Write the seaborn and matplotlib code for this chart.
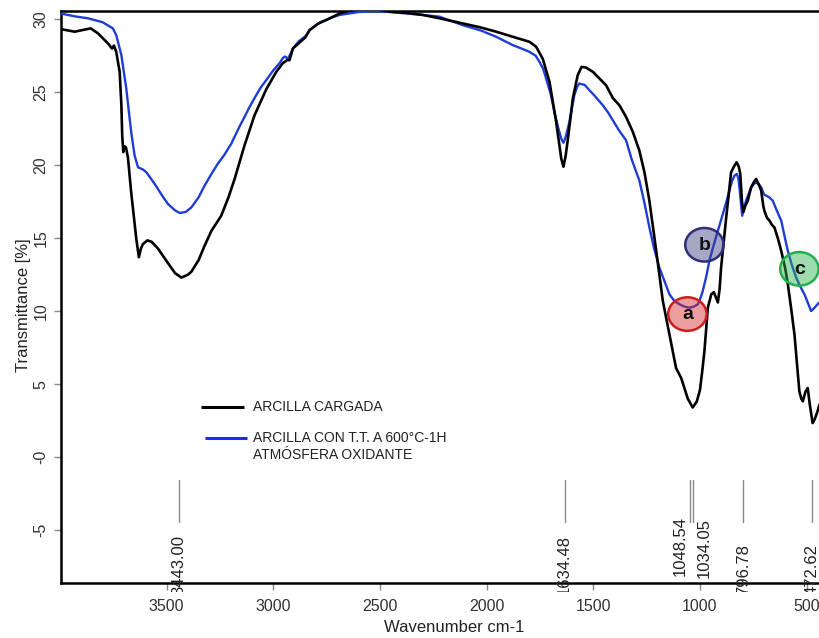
import numpy as np
import pandas as pd
import matplotlib
matplotlib.use("Agg")
import matplotlib.pyplot as plt
from matplotlib.patches import Ellipse
from matplotlib.transforms import Bbox, TransformedBbox
import seaborn as sns

# ---- FTIR spectra -------------------------------------------------------
wn_cargada = [3996, 3931, 3856, 3822, 3775, 3756, 3747, 3736, 3720, 3712, 3708, 3703,
              3697, 3690, 3681, 3666, 3642, 3630, 3620, 3611, 3590, 3570, 3541, 3494,
              3460, 3431, 3400, 3384, 3350, 3322, 3290, 3244, 3210, 3181, 3135, 3088,
              3033, 2986, 2955, 2935, 2924, 2908, 2870, 2850, 2830, 2790, 2752, 2689,
              2620, 2560, 2500, 2455, 2380, 2299, 2221, 2112, 2030, 1955, 1877, 1799,
              1768, 1737, 1705, 1674, 1650, 1640, 1630, 1619, 1596, 1573, 1555, 1535,
              1502, 1440, 1408, 1377, 1346, 1315, 1284, 1260, 1237, 1205, 1174, 1143,
              1112, 1088, 1070, 1057, 1034, 1015, 1000, 990, 979, 963, 947, 935, 924,
              916, 908, 901, 877, 854, 838, 828, 818, 811, 803, 796, 788, 776, 760,
              745, 737, 725, 713, 703, 698, 686, 674, 662, 651, 635, 619, 600, 588,
              570, 557, 545, 534, 525, 518, 505, 495, 485, 472, 462, 449, 440]
tr_cargada = [29.33, 29.15, 29.38, 29.04, 28.35, 28.0, 28.2, 27.77, 26.4, 24.1, 22.0, 20.9,
              21.3, 21.2, 20.5, 18.14, 14.94, 13.7, 14.3, 14.6, 14.85, 14.75, 14.3, 13.3,
              12.6, 12.3, 12.5, 12.7, 13.5, 14.48, 15.5, 16.54, 17.8, 19.07, 21.35, 23.42,
              25.2, 26.4, 27.0, 27.2, 27.2, 28.0, 28.5, 28.75, 29.26, 29.7, 29.95, 30.4,
              30.7, 30.76, 30.65, 30.52, 30.45, 30.3, 30.07, 29.72, 29.45, 29.15, 28.8, 28.46,
              28.12, 27.3, 25.7, 22.96, 20.44, 19.9, 20.6, 21.8, 24.57, 26.17, 26.74, 26.7,
              26.4, 25.48, 24.6, 24.1, 23.3, 22.3, 21.0, 19.5, 17.57, 14.13, 10.7, 8.4,
              6.1, 5.42, 4.6, 4.0, 3.4, 3.8, 4.6, 5.8, 7.26, 10.24, 11.15, 11.3, 10.9,
              10.6, 11.5, 12.98, 16.42, 19.52, 19.98, 20.2, 19.9, 19.4, 17.5, 16.8, 17.2,
              17.57, 18.49, 18.9, 19.06, 18.7, 18.26, 17.2, 16.88, 16.4, 16.2, 15.9, 15.74,
              15.0, 14.13, 12.9, 11.84, 9.9, 8.4, 6.4, 4.5, 4.0, 3.82, 4.5, 4.73, 3.6,
              2.33, 2.6, 3.13, 3.6]

wn_600 = [3996, 3930, 3869, 3800, 3760, 3752, 3736, 3712, 3689, 3666, 3650, 3634, 3610,
          3595, 3556, 3520, 3494, 3460, 3439, 3410, 3384, 3350, 3322, 3290, 3260, 3230,
          3197, 3160, 3135, 3111, 3088, 3060, 3033, 3000, 2970, 2955, 2945, 2932, 2920,
          2908, 2880, 2861, 2845, 2830, 2780, 2720, 2689, 2600, 2533, 2450, 2377, 2300,
          2221, 2112, 2030, 1955, 1877, 1820, 1799, 1770, 1752, 1735, 1721, 1700, 1682,
          1665, 1650, 1640, 1630, 1612, 1589, 1575, 1565, 1540, 1518, 1490, 1455, 1430,
          1408, 1380, 1346, 1320, 1284, 1260, 1237, 1215, 1190, 1165, 1143, 1120, 1096,
          1070, 1050, 1030, 1010, 995, 987, 970, 956, 940, 925, 908, 893, 878, 862, 850,
          838, 827, 820, 815, 808, 802, 793, 784, 770, 760, 748, 737, 725, 713, 700, 690,
          675, 659, 640, 619, 600, 588, 570, 549, 530, 510, 495, 479, 465, 449, 440]
tr_600 = [30.4, 30.2, 30.07, 29.8, 29.45, 29.38, 28.92, 27.54, 25.25, 22.27, 20.67, 19.86, 19.7,
          19.52, 18.72, 17.9, 17.35, 16.9, 16.73, 16.8, 17.11, 17.8, 18.6, 19.4, 20.1, 20.7,
          21.47, 22.6, 23.3, 24.0, 24.6, 25.3, 25.83, 26.5, 27.0, 27.35, 27.45, 27.3, 27.6,
          28.0, 28.5, 28.7, 28.9, 29.26, 29.8, 30.15, 30.3, 30.5, 30.55, 30.5, 30.4, 30.3,
          30.18, 29.6, 29.25, 28.8, 28.23, 27.9, 27.77, 27.5, 27.08, 26.6, 25.94, 24.9, 23.65,
          22.6, 21.81, 21.54, 21.9, 22.96, 24.8, 25.4, 25.6, 25.5, 25.14, 24.7, 24.1, 23.6,
          23.07, 22.4, 21.7, 20.4, 18.95, 17.4, 15.74, 14.3, 12.98, 12.0, 11.15, 10.7, 10.47,
          10.3, 10.24, 10.3, 10.47, 11.0, 11.38, 12.4, 13.45, 14.3, 15.05, 15.9, 16.66, 17.4, 18.26, 18.9,
          19.29, 19.4, 19.1, 18.49, 17.4, 16.54, 17.1, 17.57, 18.1, 18.49, 18.7, 18.83, 18.7, 18.49, 18.0, 17.92,
          17.8, 17.57, 16.9, 16.2, 14.9, 14.13, 13.2, 12.3, 11.7, 11.15, 10.6, 10.01, 10.2, 10.47, 10.6]

series_names = ["ARCILLA CARGADA", "ARCILLA CON T.T. A 600°C-1H\nATMÓSFERA OXIDANTE"]
series_colors = ["#000000", "#1f3dd6"]

# ---- peak markers -------------------------------------------------------
peak_positions = [3443.00, 1634.48, 1048.54, 1034.05, 796.78, 472.62]
peak_labels = ["3443.00", "1634.48", "1048.54", "1034.05", "796.78", "472.62"]
peak_text_offsets = [(0, 0), (0, 0), (-7, 14), (8, 12), (0, 0), (0, 0)]  # points

# ---- marked bands -------------------------------------------------------
band_letters = ["a", "b", "c"]
band_centers = [(1059, 9.8), (979, 14.55), (534, 12.9)]
band_faces = ["#d62728", "#3a3d80", "#2bb24c"]
band_edges = ["#cc1f1f", "#2e2f78", "#22b04a"]

# ---- axes ---------------------------------------------------------------
x_ticks = [3500, 3000, 2500, 2000, 1500, 1000, 500]
y_ticks = [-5, 0, 5, 10, 15, 20, 25, 30]
y_tick_labels = ["-5", "-0", "5", "10", "15", "20", "25", "30"]

sns.set_style("white")
plt.rcParams["font.family"] = ["Liberation Sans", "DejaVu Sans"]

fig = plt.figure(figsize=(8.19, 6.38), dpi=100)
ax = fig.add_axes([61 / 819, (638 - 583.3) / 638, (819 - 61) / 819, (583.3 - 10.7) / 638])

df = pd.concat([
    pd.DataFrame({"wn": wn_cargada, "T": tr_cargada, "muestra": series_names[0]}),
    pd.DataFrame({"wn": wn_600, "T": tr_600, "muestra": series_names[1]}),
])
sns.lineplot(data=df[df.muestra == series_names[1]], x="wn", y="T", color=series_colors[1],
             lw=1.7, ax=ax, legend=False, estimator=None, zorder=3)
sns.lineplot(data=df[df.muestra == series_names[0]], x="wn", y="T", color=series_colors[0],
             lw=1.9, ax=ax, legend=False, estimator=None, zorder=3)

ax.set_xlim(3995, 442)
ax.set_ylim(-8.65, 30.59)

# frame: R-style box cut at the right edge
for side in ["left", "bottom", "top"]:
    ax.spines[side].set_color("black")
    ax.spines[side].set_linewidth(1.8)
ax.spines["right"].set_visible(False)

ax.set_xticks(x_ticks)
ax.set_xticklabels([str(t) for t in x_ticks])
ax.set_yticks(y_ticks)
ax.set_yticklabels(y_tick_labels)
ax.tick_params(axis="both", direction="out", length=5, width=1, color="#888888",
               labelsize=11.5, labelcolor="#333333")
ax.tick_params(axis="x", pad=6, bottom=True)
ax.tick_params(axis="y", pad=4, left=True, labelrotation=90)
for lab in ax.get_yticklabels():
    lab.set_va("center")

ax.set_xlabel("Wavenumber cm-1", fontsize=12, color="#222222")
ax.set_ylabel("Transmittance [%]", fontsize=12, color="#222222")
ax.xaxis.set_label_coords(0.5185, -0.064)
ax.yaxis.set_label_coords(-0.040, 0.486)

# peak tick marks with rotated wavenumber labels
clip = TransformedBbox(Bbox.from_extents(-0.1, -0.015, 1.1, 1.0), ax.transAxes)
for pos, lab, (dx, dy) in zip(peak_positions, peak_labels, peak_text_offsets):
    ax.plot([pos, pos], [-1.6, -4.45], color="#8a8a8a", lw=1.0, zorder=2)
    t = ax.annotate(lab, xy=(pos, -9.46), xytext=(dx, dy), textcoords="offset points",
                    rotation=90, ha="center", va="bottom", fontsize=12,
                    color="#222222", annotation_clip=False)
    t.set_clip_box(clip)
    t.set_clip_on(True)

# highlighted bands
for letter, (cx, cy), fc, ec in zip(band_letters, band_centers, band_faces, band_edges):
    ax.add_patch(Ellipse((cx, cy), width=180, height=2.3, facecolor=fc, alpha=0.45,
                         edgecolor="none", zorder=4))
    ax.add_patch(Ellipse((cx, cy), width=180, height=2.3, facecolor="none",
                         edgecolor=ec, lw=1.8, zorder=5))
    ax.text(cx, cy - 0.05, letter, ha="center", va="center", fontsize=14,
            fontweight="bold", color="#111111", zorder=6)

# legend drawn without frame
ax.plot([0.1847, 0.2414], [0.3079, 0.3079], transform=ax.transAxes,
        color=series_colors[0], lw=2.2, solid_capstyle="butt")
ax.text(0.2533, 0.3079, series_names[0], transform=ax.transAxes, fontsize=10,
        va="center", ha="left", color="#222222")
ax.plot([0.190, 0.2454], [0.2538, 0.2538], transform=ax.transAxes,
        color="#1a2cf0", lw=2.2, solid_capstyle="butt")
for i, line in enumerate(series_names[1].split("\n")):
    ax.text(0.2533, 0.2538 - i * 0.0297, line, transform=ax.transAxes, fontsize=10,
            va="center", ha="left", color="#222222")

fig.savefig("out.png", dpi=100)
